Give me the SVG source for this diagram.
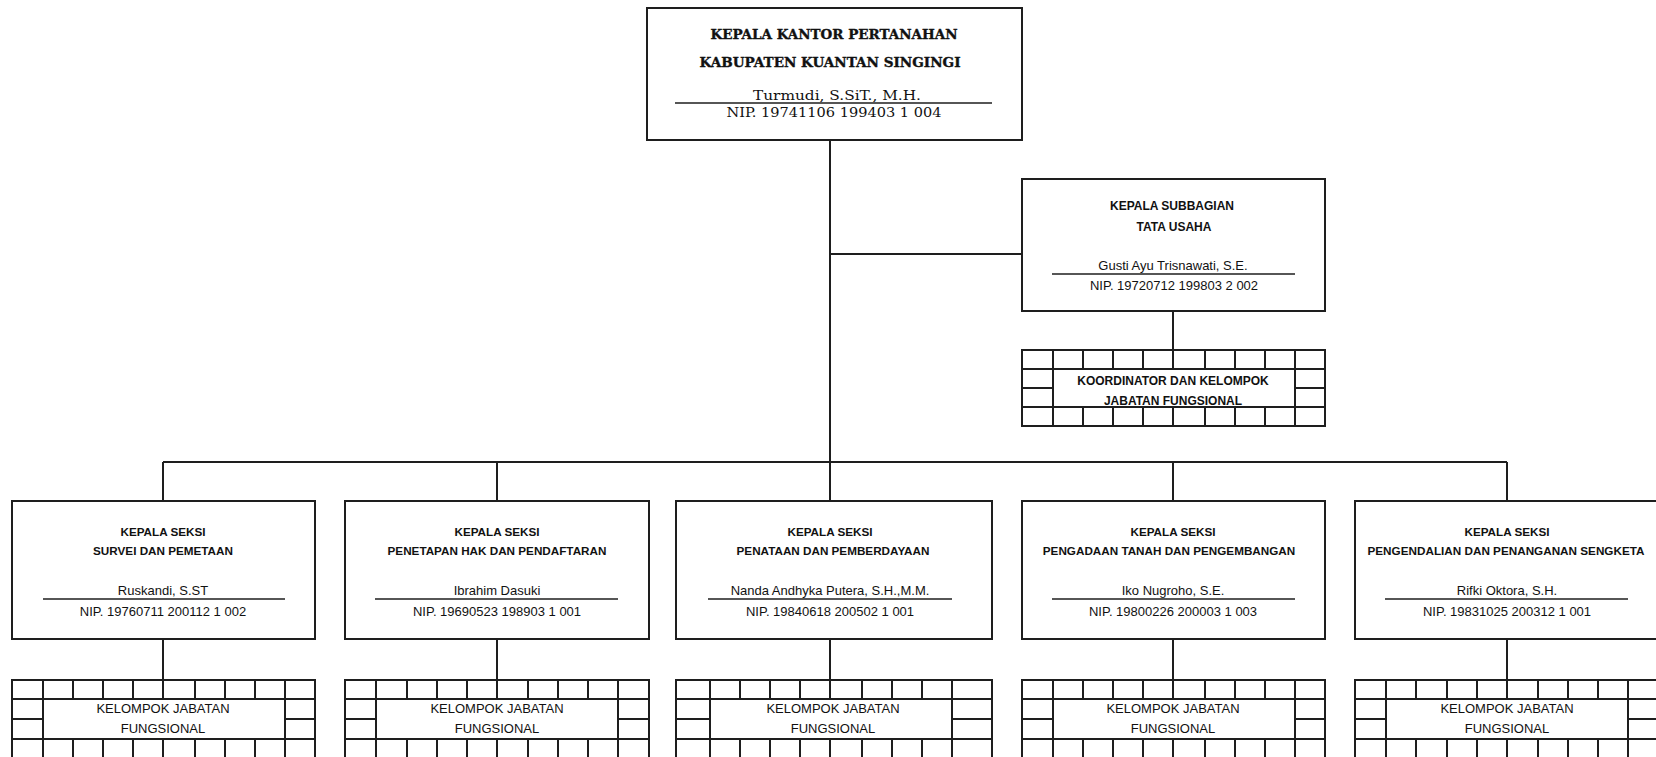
<svg xmlns="http://www.w3.org/2000/svg" width="1656" height="757" viewBox="0 0 1656 757">
<style>
.bg{fill:#ffffff}
.box{fill:#ffffff;stroke:#1e1e1e;stroke-width:2}
.grid{fill:none;stroke:#1e1e1e;stroke-width:2}
.rule{stroke:#1e1e1e;stroke-width:1.6}
.conn{fill:none;stroke:#1e1e1e;stroke-width:2}
.st{font-family:"DejaVu Serif","Liberation Serif",serif;font-weight:bold;font-size:12.5px;fill:#111;stroke:#111;stroke-width:0.35;text-anchor:middle}
.sn{font-family:"DejaVu Serif","Liberation Serif",serif;font-size:13.5px;fill:#111;text-anchor:middle}
.t{font-family:"Liberation Sans",Arial,sans-serif;font-weight:bold;font-size:11.7px;fill:#111;text-anchor:middle}
.tu{font-family:"Liberation Sans",Arial,sans-serif;font-weight:bold;font-size:12px;fill:#111;text-anchor:middle}
.n{font-family:"Liberation Sans",Arial,sans-serif;font-size:13px;fill:#111;text-anchor:middle}
.g{font-family:"Liberation Sans",Arial,sans-serif;font-size:13px;fill:#111;text-anchor:middle}
.gb{font-family:"Liberation Sans",Arial,sans-serif;font-weight:bold;font-size:12px;fill:#111;text-anchor:middle}
</style>
<rect class="bg" x="0" y="0" width="1656" height="757"/>

<g id="connectors">
<path class="conn" d="M830 140 V462"/>
<path class="conn" d="M830 254 H1022"/>
<path class="conn" d="M1173 311 V350"/>
<path class="conn" d="M163 462 H1507"/>
<path class="conn" d="M163 462 V501 M497 462 V501 M830 462 V501 M1173 462 V501 M1507 462 V501"/>
<path class="conn" d="M163 639 V680 M497 639 V680 M830 639 V680 M1173 639 V680 M1507 639 V680"/>
</g>

<g id="kepala-kantor">
<rect class="box" x="647" y="8" width="375" height="132"/>
<text class="st" x="834" y="39" textLength="247" lengthAdjust="spacingAndGlyphs">KEPALA KANTOR PERTANAHAN</text>
<text class="st" x="830" y="67" textLength="261" lengthAdjust="spacingAndGlyphs">KABUPATEN KUANTAN SINGINGI</text>
<text class="sn" x="837" y="100" textLength="168" lengthAdjust="spacingAndGlyphs">Turmudi, S.SiT., M.H.</text>
<line class="rule" x1="675" y1="103" x2="992" y2="103"/>
<text class="sn" x="834" y="117" textLength="215" lengthAdjust="spacingAndGlyphs">NIP. 19741106 199403 1 004</text>
</g>

<g id="kasubbag-tu">
<rect class="box" x="1022" y="179" width="303" height="132"/>
<text class="tu" x="1172" y="210">KEPALA SUBBAGIAN</text>
<text class="tu" x="1174" y="231">TATA USAHA</text>
<text class="n" x="1173" y="270">Gusti Ayu Trisnawati, S.E.</text>
<line class="rule" x1="1052" y1="274" x2="1295" y2="274"/>
<text class="n" x="1174" y="290">NIP. 19720712 199803 2 002</text>
</g>

<g id="koordinator-jf">
<path class="grid" d="M1022 350 H1325 V426 H1022 Z M1022 369 H1325 M1022 407 H1325 M1022 388 H1053 M1295 388 H1325 M1053 350 V426 M1295 350 V426 M1083 350 V369 M1113 350 V369 M1143 350 V369 M1173 350 V369 M1205 350 V369 M1235 350 V369 M1265 350 V369 M1083 407 V426 M1113 407 V426 M1143 407 V426 M1173 407 V426 M1205 407 V426 M1235 407 V426 M1265 407 V426"/>
<text class="gb" x="1173" y="385">KOORDINATOR DAN KELOMPOK</text>
<text class="gb" x="1173" y="405">JABATAN FUNGSIONAL</text>
</g>

<g id="seksi-survei">
<rect class="box" x="12" y="501" width="303" height="138"/>
<text class="t" x="163" y="536">KEPALA SEKSI</text>
<text class="t" x="163" y="555">SURVEI DAN PEMETAAN</text>
<text class="n" x="163" y="595">Ruskandi, S.ST</text>
<line class="rule" x1="43" y1="599" x2="285" y2="599"/>
<text class="n" x="163" y="616">NIP. 19760711 200112 1 002</text>
</g>
<g id="jf-survei">
<path class="grid" d="M12 680 H315 V759 H12 Z M12 699 H315 M12 739 H315 M12 719 H43 M285 719 H315 M43 680 V759 M285 680 V759 M73 680 V699 M103 680 V699 M133 680 V699 M163 680 V699 M195 680 V699 M225 680 V699 M255 680 V699 M73 739 V759 M103 739 V759 M133 739 V759 M163 739 V759 M195 739 V759 M225 739 V759 M255 739 V759"/>
<text class="g" x="163" y="713">KELOMPOK JABATAN</text>
<text class="g" x="163" y="733">FUNGSIONAL</text>
</g>

<g id="seksi-penetapan">
<rect class="box" x="345" y="501" width="304" height="138"/>
<text class="t" x="497" y="536">KEPALA SEKSI</text>
<text class="t" x="497" y="555">PENETAPAN HAK DAN PENDAFTARAN</text>
<text class="n" x="497" y="595">Ibrahim Dasuki</text>
<line class="rule" x1="375" y1="599" x2="618" y2="599"/>
<text class="n" x="497" y="616">NIP. 19690523 198903 1 001</text>
</g>
<g id="jf-penetapan">
<path class="grid" d="M345 680 H649 V759 H345 Z M345 699 H649 M345 739 H649 M345 719 H376 M618 719 H649 M376 680 V759 M618 680 V759 M407 680 V699 M437 680 V699 M467 680 V699 M497 680 V699 M528 680 V699 M558 680 V699 M588 680 V699 M407 739 V759 M437 739 V759 M467 739 V759 M497 739 V759 M528 739 V759 M558 739 V759 M588 739 V759"/>
<text class="g" x="497" y="713">KELOMPOK JABATAN</text>
<text class="g" x="497" y="733">FUNGSIONAL</text>
</g>

<g id="seksi-penataan">
<rect class="box" x="676" y="501" width="316" height="138"/>
<text class="t" x="830" y="536">KEPALA SEKSI</text>
<text class="t" x="833" y="555">PENATAAN DAN PEMBERDAYAAN</text>
<text class="n" x="830" y="595">Nanda Andhyka Putera, S.H.,M.M.</text>
<line class="rule" x1="708" y1="599" x2="952" y2="599"/>
<text class="n" x="830" y="616">NIP. 19840618 200502 1 001</text>
</g>
<g id="jf-penataan">
<path class="grid" d="M676 680 H992 V759 H676 Z M676 699 H992 M676 739 H992 M676 719 H710 M952 719 H992 M710 680 V759 M952 680 V759 M740 680 V699 M770 680 V699 M800 680 V699 M830 680 V699 M862 680 V699 M892 680 V699 M922 680 V699 M740 739 V759 M770 739 V759 M800 739 V759 M830 739 V759 M862 739 V759 M892 739 V759 M922 739 V759"/>
<text class="g" x="833" y="713">KELOMPOK JABATAN</text>
<text class="g" x="833" y="733">FUNGSIONAL</text>
</g>

<g id="seksi-pengadaan">
<rect class="box" x="1022" y="501" width="303" height="138"/>
<text class="t" x="1173" y="536">KEPALA SEKSI</text>
<text class="t" x="1169" y="555">PENGADAAN TANAH DAN PENGEMBANGAN</text>
<text class="n" x="1173" y="595">Iko Nugroho, S.E.</text>
<line class="rule" x1="1052" y1="599" x2="1295" y2="599"/>
<text class="n" x="1173" y="616">NIP. 19800226 200003 1 003</text>
</g>
<g id="jf-pengadaan">
<path class="grid" d="M1022 680 H1325 V759 H1022 Z M1022 699 H1325 M1022 739 H1325 M1022 719 H1053 M1295 719 H1325 M1053 680 V759 M1295 680 V759 M1083 680 V699 M1113 680 V699 M1143 680 V699 M1173 680 V699 M1205 680 V699 M1235 680 V699 M1265 680 V699 M1083 739 V759 M1113 739 V759 M1143 739 V759 M1173 739 V759 M1205 739 V759 M1235 739 V759 M1265 739 V759"/>
<text class="g" x="1173" y="713">KELOMPOK JABATAN</text>
<text class="g" x="1173" y="733">FUNGSIONAL</text>
</g>

<g id="seksi-pengendalian">
<rect class="box" x="1355" y="501" width="305" height="138"/>
<text class="t" x="1507" y="536">KEPALA SEKSI</text>
<text class="t" x="1506" y="555" textLength="277" lengthAdjust="spacingAndGlyphs">PENGENDALIAN DAN PENANGANAN SENGKETA</text>
<text class="n" x="1507" y="595">Rifki Oktora, S.H.</text>
<line class="rule" x1="1385" y1="599" x2="1628" y2="599"/>
<text class="n" x="1507" y="616">NIP. 19831025 200312 1 001</text>
</g>
<g id="jf-pengendalian">
<path class="grid" d="M1355 680 H1660 V759 H1355 Z M1355 699 H1660 M1355 739 H1660 M1355 719 H1386 M1628 719 H1660 M1386 680 V759 M1628 680 V759 M1416 680 V699 M1447 680 V699 M1477 680 V699 M1507 680 V699 M1538 680 V699 M1568 680 V699 M1598 680 V699 M1416 739 V759 M1447 739 V759 M1477 739 V759 M1507 739 V759 M1538 739 V759 M1568 739 V759 M1598 739 V759"/>
<text class="g" x="1507" y="713">KELOMPOK JABATAN</text>
<text class="g" x="1507" y="733">FUNGSIONAL</text>
</g>
</svg>
